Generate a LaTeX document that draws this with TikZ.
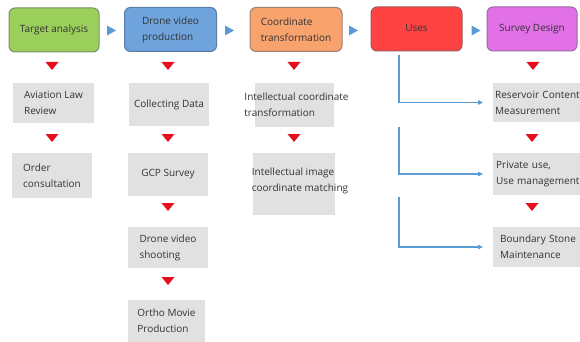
\documentclass[tikz,border=0pt]{standalone}
\usepackage{fontspec}
\setmainfont{Open Sans}
\usepackage{xcolor}
\usetikzlibrary{arrows.meta}

\definecolor{tgreen}{HTML}{9BCF5B}
\definecolor{tgreenb}{HTML}{76906A}
\definecolor{tblue}{HTML}{6FA3DC}
\definecolor{tblueb}{HTML}{5A7DA6}
\definecolor{torange}{HTML}{F8A36D}
\definecolor{torangeb}{HTML}{9C8074}
\definecolor{tred}{HTML}{FF4242}
\definecolor{tredb}{HTML}{A0585A}
\definecolor{tpink}{HTML}{E270E6}
\definecolor{tpinkb}{HTML}{9A6AA0}
\definecolor{boxgrey}{HTML}{E1E1E1}
\definecolor{trired}{HTML}{E5101E}
\definecolor{flowblue}{HTML}{5B9BD5}

\begin{document}
\begin{tikzpicture}[x=1pt, y=-1pt,
    every node/.style={font=\fontsize{10}{16}\selectfont, text=black!80},
    stage/.style={rectangle, rounded corners=6pt, line width=1pt, minimum width=90pt, minimum height=44pt, align=left},
    task/.style={rectangle, fill=boxgrey, align=left, inner sep=3pt},
    flow/.style={draw=flowblue, line width=1.1pt, -{Triangle[length=5pt, width=4.5pt]}},
    down/.pic={\fill[trired] (-6.5,0) -- (6.5,0) -- (0,8) -- cycle;},
    next/.pic={\fill[flowblue] (0,-5) -- (0,5) -- (9,0) -- cycle;}]
    \useasboundingbox (0,0) rectangle (580,342);
    \clip (0,0) rectangle (580,342);

    % top row
    \node[stage, fill=tgreen, draw=tgreenb] (ta) at (54,30) {Target analysis};
    \node[stage, fill=tblue, draw=tblueb, minimum width=92pt] (dv) at (170.5,29.5) {Drone video\\production};
    \node[stage, fill=torange, draw=torangeb, minimum width=92pt] (ct) at (296,29.5) {Coordinate\\transformation};
    \node[stage, fill=tred, draw=tredb, minimum width=91pt] (us) at (416.5,29) {\raisebox{2pt}{Uses}};
    \node[stage, fill=tpink, draw=tpinkb] (sd) at (532,29) {Survey Design};

    \pic at (107,30.5) {next};
    \pic at (225,30.5) {next};
    \pic at (349,30.5) {next};
    \pic at (471.5,30.5) {next};

    \pic at (52,62) {down};
    \pic at (168,62) {down};
    \pic at (294,62) {down};
    \pic at (533,62) {down};

    % column 1
    \node[task, minimum width=81pt, minimum height=40pt] (al) at (53.5,103) {Aviation Law\\Review};
    \node[task, minimum width=80pt, minimum height=45pt] (oc) at (52,175.5) {Order\\consultation};
    \pic at (52,134) {down};

    % column 2
    \node[task, minimum width=80pt, minimum height=43pt] (cd) at (169,104.5) {Collecting Data};
    \node[task, minimum width=80pt, minimum height=43pt] (gs) at (168,174.5) {GCP Survey};
    \node[task, minimum width=80pt, minimum height=41pt] (ds) at (168,247.5) {Drone video\\shooting};
    \node[task, minimum width=77pt, minimum height=42pt] (om) at (166.5,321) {Ortho Movie\\Production};
    \pic at (168,134) {down};
    \pic at (168,203) {down};
    \pic at (168,277) {down};

    % column 3
    \node[task, minimum width=79pt, minimum height=44pt,
        label={[align=left, xshift=2pt]center:Intellectual coordinate\\transformation}] (ic) at (294.5,105) {};
    \node[task, minimum width=82pt, minimum height=62pt,
        label={[align=left, xshift=6pt, yshift=3pt]center:Intellectual image\\coordinate matching}] (im) at (294,184) {};
    \pic at (294,134) {down};

    % column 5
    \node[task, anchor=west, text width=89pt, inner xsep=2pt, minimum height=39pt] (rc) at (493,102.5) {Reservoir~Content\\Measurement};
    \node[task, anchor=west, text width=89pt, inner xsep=3pt, minimum height=42pt] (pu) at (493,174) {Private use,\\Use management};
    \node[task, anchor=west, text width=89pt, inner xsep=7pt, minimum height=40pt] (bs) at (493,247) {Boundary Stone\\Maintenance};
    \pic at (532,134) {down};
    \pic at (532,203) {down};

    % uses branches
    \coordinate (u1) at (399,55);
    \coordinate (u2) at (399,127);
    \coordinate (u3) at (399,197);
    \draw[flow, shorten >=10pt] (u1) |- (rc.west);
    \draw[flow, shorten >=10pt] (u2) |- (pu.west);
    \draw[flow, shorten >=10pt] (u3) |- (bs.west);
\end{tikzpicture}
\end{document}
